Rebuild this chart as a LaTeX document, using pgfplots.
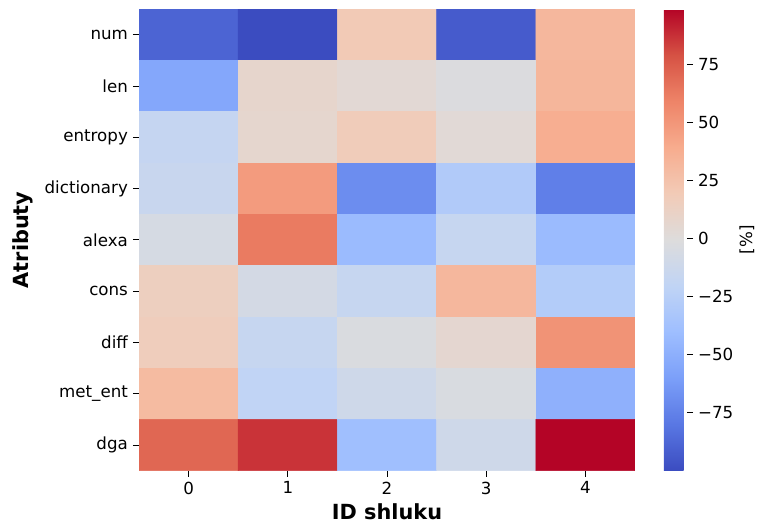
\documentclass[border=0pt]{standalone}
\usepackage{pgfplots}
\pgfplotsset{compat=1.18}
\usepackage{fontspec}
\setmainfont{DejaVu Sans}
\pgfplotsset{colormap={coolwarm}{rgb255=(59,76,192) rgb255=(89,119,227) rgb255=(123,159,249) rgb255=(158,190,255) rgb255=(192,212,245) rgb255=(221,220,220) rgb255=(242,203,183) rgb255=(247,172,142) rgb255=(238,132,104) rgb255=(214,82,68) rgb255=(180,4,38)}}
\pgfplotstableread{
x y c
0 0 -89
1 0 -100
2 0 20
3 0 -93
4 0 32
0 1 -55
1 1 8
2 1 4
3 1 -2
4 1 33
0 2 -17
1 2 7
2 2 18
3 2 3
4 2 38
0 3 -15
1 3 48
2 3 -69
3 3 -29
4 3 -76
0 4 -6
1 4 63
2 4 -42
3 4 -16
4 4 -42
0 5 15
1 5 -7
2 5 -16
3 5 32
4 5 -28
0 6 17
1 6 -16
2 6 -3
3 6 6
4 6 52
0 7 30
1 7 -20
2 7 -11
3 7 -4
4 7 -49
0 8 71
1 8 87
2 8 -39
3 8 -11
4 8 99
}\heat
\begin{document}
\begin{tikzpicture}
\useasboundingbox (-100.1pt,6.5pt) rectangle (446.4pt,-371.5pt);
\begin{axis}[
  at={(0,0)}, anchor=north west,
  scale only axis,
  width=357.1pt, height=332.4pt,
  xmin=-0.5, xmax=4.5, ymin=-0.5, ymax=8.5,
  y dir=reverse,
  enlargelimits=false,
  separate axis lines,
  axis line style={draw=none},
  xtick={0,1,2,3,4}, xticklabels={0,1,2,3,4},
  ytick={0,...,8},
  yticklabels={num,len,entropy,dictionary,alexa,cons,diff,met\_ent,dga},
  xtick pos=bottom, ytick pos=left,
  tick align=outside,
  major tick length=4.5pt,
  tick style={black, line width=0.6pt},
  ticklabel style={font=\fontsize{12}{14}\selectfont},
  xlabel={\textbf{ID shluku}},
  ylabel={\textbf{Atributy}},
  every axis x label/.style={at={(axis description cs:0.5,0)}, yshift=-35.3pt, anchor=base, font=\fontsize{15}{18}\selectfont},
  every axis y label/.style={at={(axis description cs:0,0.5)}, xshift=-83.6pt, rotate=90, anchor=center, font=\fontsize{15}{18}\selectfont},
  colormap name=coolwarm,
  point meta min=-100, point meta max=99,
  colorbar,
  colorbar style={
    at={(parent axis.north east)}, anchor=north west,
    xshift=12.3pt,
    width=16.6pt,
    separate axis lines,
    axis line style={draw=none},
    ytick={-75,-50,-25,0,25,50,75},
    yticklabels={−75,−50,−25,0,25,50,75},
    ytick pos=right, yticklabel pos=right,
    tick align=outside,
    major tick length=4.5pt,
    tick style={black, line width=0.6pt},
    ticklabel style={font=\fontsize{12}{14}\selectfont},
    ylabel={[\%]},
    every axis y label/.style={at={(axis description cs:1,0.5)}, xshift=43.2pt, rotate=90, anchor=center, font=\fontsize{12}{14}\selectfont},
  },
]
\addplot[matrix plot*, mesh/cols=5, point meta=explicit, shader=flat corner] table[x=x, y=y, meta=c] {\heat};
\end{axis}
\end{tikzpicture}
\end{document}
